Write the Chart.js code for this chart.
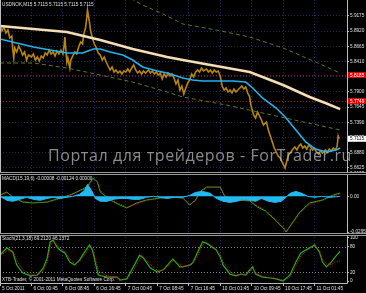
<!DOCTYPE html>
<html>
<head>
<meta charset="utf-8">
<script src="https://cdn.jsdelivr.net/npm/chart.js@4.4.1/dist/chart.umd.min.js"></script>
<style>
  body { margin: 0; background: #000; width: 366px; height: 293px; overflow: hidden; position: relative; }
  #chart { position: absolute; left: 0; top: 0; }
  .txt { position: absolute; left: 2px; color: #e0e0e0; font-family: "Liberation Sans", sans-serif; font-size: 4.7px; white-space: nowrap; line-height: 1; }
  #mark { position: absolute; left: 48px; top: 147px; color: rgba(185,185,185,0.75); font-family: "Open Sans", sans-serif; font-size: 16px; white-space: nowrap; line-height: 1; }
</style>
</head>
<body>
<canvas id="chart" width="366" height="293"></canvas>
<div class="txt" style="top:3px">USDNOK,M15 5.7115 5.7115 5.7115 5.7115</div>
<div class="txt" style="top:177px">MACD(15,19,6) -0.00008 -0.00124 0.00000</div>
<div class="txt" style="top:237px">Stoch(21,3,18) 69.2120 46.1372</div>
<div class="txt" style="top:278px">XTB-Trader, © 2001-2011 MetaQuotes Software Corp.</div>
<div id="mark">Портал для трейдеров - ForTrader.ru</div>
<script>
// USDNOK M15, bars counted from the left edge of the window
const timeTicks = [0, 32, 64, 96, 128, 160, 192, 224, 256, 288, 320];
const timeLabels = ["5 Oct 2011", "6 Oct 00:45", "6 Oct 08:45", "6 Oct 16:45", "7 Oct 00:45",
  "7 Oct 08:45", "7 Oct 16:45", "10 Oct 01:45", "10 Oct 09:45", "10 Oct 17:45", "11 Oct 01:45"];
const priceTicks = [5.9175, 5.8920, 5.8665, 5.8410, 5.8155, 5.7900, 5.7645, 5.7390, 5.7135, 5.6880, 5.6625];
const macdTicks = [0.0185, 0, -0.029525];
const stochTicks = [100, 80, 20, 0];

const lastPrice = 5.7115;
const redLevels = [5.8185, 5.7749];

const priceBar = [0, 2, 4, 6, 8, 10, 12, 13, 14, 15, 17, 19, 21, 23, 25, 27, 29, 32, 34, 36, 38, 40, 42, 44, 46,
  48, 50, 52, 54, 56, 58, 60, 62, 64, 65, 66, 67, 68, 69, 71, 72, 74, 76, 78, 80, 82, 84, 85, 87, 88, 89, 91, 92,
  94, 96, 98, 100, 102, 104, 106, 108, 110, 112, 114, 116, 118, 120, 122, 124, 126, 128, 130, 132, 134, 136, 138,
  140, 142, 144, 146, 148, 151, 153, 155, 157, 159, 161, 163, 165, 167, 169, 171, 173, 175, 177, 179, 181, 183,
  185, 187, 189, 191, 193, 195, 197, 199, 201, 203, 205, 207, 210, 212, 214, 216, 218, 220, 222, 224, 226, 228,
  230, 232, 234, 236, 238, 240, 242, 244, 246, 248, 250, 252, 254, 255, 256, 258, 260, 262, 264, 266, 268, 271,
  273, 275, 277, 279, 281, 283, 285, 287, 289, 290, 292, 294, 296, 298, 300, 302, 304, 306, 308, 310, 312, 314,
  316, 318, 320, 322, 324, 326, 328, 331, 333, 335, 337, 339, 341, 343, 344, 345, 346];
const priceClose = [5.9024, 5.8923, 5.8990, 5.8889, 5.8940, 5.8806, 5.8839, 5.8604, 5.8470, 5.8638, 5.8571,
  5.8671, 5.8604, 5.8520, 5.8571, 5.8436, 5.8520, 5.8487, 5.8537, 5.8436, 5.8487, 5.8420, 5.8503, 5.8470,
  5.8554, 5.8520, 5.8604, 5.8537, 5.8571, 5.8503, 5.8587, 5.8537, 5.8604, 5.8537, 5.8638, 5.8822, 5.8604,
  5.8403, 5.8470, 5.8302, 5.8436, 5.8503, 5.8571, 5.8537, 5.8655, 5.8738, 5.8705, 5.8856, 5.8973, 5.9107,
  5.9275, 5.9074, 5.8940, 5.8806, 5.8705, 5.8638, 5.8554, 5.8520, 5.8436, 5.8487, 5.8403, 5.8336, 5.8269,
  5.8319, 5.8235, 5.8269, 5.8218, 5.8252, 5.8202, 5.8252, 5.8235, 5.8285, 5.8235, 5.8302, 5.8353, 5.8269,
  5.8218, 5.8252, 5.8202, 5.8252, 5.8218, 5.8269, 5.8218, 5.8252, 5.8202, 5.8235, 5.8185, 5.8218, 5.8118,
  5.8202, 5.8151, 5.8218, 5.8168, 5.8202, 5.8134, 5.8034, 5.8101, 5.7933, 5.8000, 5.7866, 5.7967, 5.8051,
  5.8101, 5.8202, 5.8151, 5.8235, 5.8269, 5.8235, 5.8302, 5.8252, 5.8285, 5.8235, 5.8269, 5.8218, 5.8269,
  5.8235, 5.8252, 5.8168, 5.8000, 5.7933, 5.7967, 5.7900, 5.7933, 5.7883, 5.7950, 5.7900, 5.7933, 5.7967,
  5.8000, 5.7950, 5.7984, 5.7883, 5.7816, 5.7698, 5.7631, 5.7514, 5.7463, 5.7564, 5.7497, 5.7430, 5.7346,
  5.7396, 5.7262, 5.7161, 5.7061, 5.6960, 5.6893, 5.6826, 5.6792, 5.6725, 5.6658, 5.6625, 5.6759, 5.6860,
  5.6893, 5.6943, 5.6977, 5.6927, 5.6994, 5.7027, 5.6960, 5.6994, 5.6943, 5.7010, 5.6977, 5.6927, 5.6960,
  5.6893, 5.6860, 5.6910, 5.6876, 5.6927, 5.6893, 5.6943, 5.6910, 5.6960, 5.6927, 5.6994, 5.7161, 5.7115];

const fastBar = [0, 17, 34, 51, 68, 84, 95, 102, 112, 125, 135, 145, 160, 170, 186, 196, 206, 220, 237, 250,
  257, 267, 281, 291, 301, 311, 321, 332, 342, 346];
const fastMa = [5.8789, 5.8722, 5.8655, 5.8604, 5.8554, 5.8554, 5.8621, 5.8621, 5.8571, 5.8520, 5.8436, 5.8319,
  5.8252, 5.8218, 5.8134, 5.8101, 5.8084, 5.8084, 5.8084, 5.8067, 5.7967, 5.7799, 5.7631, 5.7463, 5.7262,
  5.7061, 5.6943, 5.6893, 5.6927, 5.6960];

const slowBar = [0, 34, 68, 102, 135, 170, 186, 220, 254, 275, 288, 315, 331, 346];
const slowMa = [5.9007, 5.8956, 5.8906, 5.8772, 5.8621, 5.8487, 5.8436, 5.8336, 5.8235, 5.8101, 5.8017, 5.7816,
  5.7715, 5.7614];

const upperBar = [127, 145, 166, 186, 220, 254, 288, 321, 346];
const upperBand = [5.9527, 5.9359, 5.9208, 5.9040, 5.8940, 5.8822, 5.8638, 5.8403, 5.8218];
const lowerBar = [0, 34, 68, 102, 135, 170, 186, 230, 346];
const lowerBand = [5.8386, 5.8386, 5.8302, 5.8185, 5.8067, 5.7900, 5.7816, 5.7682, 5.7262];

const macdBar = [0, 7, 13, 23, 34, 48, 61, 71, 78, 88, 95, 99, 102, 112, 122, 129, 139, 149, 163, 173, 186, 193,
  199, 203, 210, 224, 229, 239, 254, 262, 270, 280, 288, 291, 298, 305, 315, 328, 339, 346];
const macdMain = [0.0011, 0.0036, -0.0006, -0.0047, -0.0055, -0.0047, -0.0014, 0.0011, 0.0036, 0.0077, 0.0152,
  0.0119, 0.0036, -0.0030, -0.0072, -0.0096, -0.0055, -0.0030, -0.0014, -0.0006, -0.0014, -0.0072, -0.0030,
  0.0036, 0.0077, 0.0077, -0.0006, -0.0030, -0.0038, -0.0088, -0.0121, -0.0196, -0.0262, -0.0295, -0.0212,
  -0.0130, -0.0055, -0.0030, 0.0011, 0.0028];
const macdSignal = [0.0008, 0.0030, 0.0004, -0.0040, -0.0053, -0.0049, -0.0020, 0.0005, 0.0030, 0.0068, 0.0138,
  0.0125, 0.0050, -0.0022, -0.0064, -0.0090, -0.0062, -0.0034, -0.0017, -0.0008, -0.0012, -0.0064, -0.0038,
  0.0025, 0.0070, 0.0076, 0.0005, -0.0026, -0.0036, -0.0080, -0.0114, -0.0186, -0.0252, -0.0288, -0.0222,
  -0.0140, -0.0064, -0.0034, 0.0004, 0.0022];

const histBar = [0, 7, 13, 20, 27, 34, 41, 48, 54, 61, 68, 74, 81, 86, 89, 93, 97, 102, 109, 115, 122, 129, 135,
  142, 149, 156, 163, 170, 178, 186, 193, 199, 206, 214, 220, 227, 234, 241, 247, 254, 260, 266, 273, 280, 286,
  291, 295, 301, 307, 313, 320, 327, 336, 346];
const histVal = [0, -0.0033, -0.0041, -0.0025, -0.0008, -0.0025, -0.0033, -0.0017, -0.0008, -0.0017, -0.0008, 0,
  0.0017, 0.0050, 0.0099, 0.0050, -0.0017, -0.0041, -0.0041, -0.0025, -0.0017, -0.0017, -0.0025, -0.0025,
  -0.0008, 0, -0.0008, -0.0017, -0.0008, -0.0008, 0.0008, 0.0033, 0.0041, 0.0025, -0.0017, -0.0041, -0.0050,
  -0.0041, -0.0025, -0.0033, -0.0041, -0.0017, -0.0041, -0.0050, -0.0041, -0.0008, 0.0025, 0.0041, 0.0025, 0,
  -0.0008, 0, -0.0008, 0];

const stochBar = [0, 7, 13, 17, 23, 31, 38, 44, 48, 51, 54, 58, 61, 66, 71, 76, 81, 86, 91, 94, 97, 100, 109, 119,
  122, 129, 135, 142, 145, 153, 160, 166, 173, 176, 183, 186, 193, 196, 201, 206, 210, 217, 220, 224, 227, 234,
  240, 245, 250, 254, 257, 260, 267, 275, 281, 288, 295, 301, 306, 311, 315, 320, 325, 328, 332, 337, 341, 346];
const stochK = [60, 77, 67, 37, 19, 12, 14, 30, 53, 91, 95, 79, 72, 65, 44, 37, 49, 67, 84, 72, 42, 14, 9, 9, 2, 5,
  30, 60, 56, 30, 21, 26, 44, 51, 33, 33, 37, 42, 67, 91, 88, 77, 72, 56, 37, 16, 12, 16, 14, 26, 33, 16, 9, 7, 5,
  0, 14, 44, 65, 72, 77, 84, 67, 44, 33, 44, 56, 69];
const stochD = [58, 70, 70, 48, 27, 15, 13, 24, 45, 80, 92, 85, 75, 68, 52, 40, 45, 60, 78, 76, 52, 24, 12, 9, 4, 4,
  22, 50, 57, 38, 25, 25, 38, 48, 38, 34, 36, 40, 58, 84, 89, 80, 74, 62, 44, 22, 14, 15, 15, 22, 30, 20, 11, 8, 6,
  2, 9, 35, 58, 69, 75, 81, 72, 50, 40, 38, 44, 47];

const pts = (xs, ys) => xs.map((x, i) => ({ x: x, y: ys[i] }));

const axisFont = { family: "Liberation Sans", size: 4.7 };
const gridBlue = "#25255e";
const frameGrey = "#bdbdbd";

function line(data, color, width, axis, extra) {
  return Object.assign({ data: data, borderColor: color, borderWidth: width, pointRadius: 0,
    tension: 0, yAxisID: axis, fill: false }, extra || {});
}

const chartFrame = {
  id: "chartFrame",
  beforeDatasetsDraw(chart) {
    const { ctx, chartArea, scales } = chart;
    ctx.save();
    ctx.strokeStyle = "#9a1010";
    ctx.lineWidth = 1;
    ctx.setLineDash([1, 2]);
    redLevels.forEach(v => {
      const y = Math.round(scales.yPrice.getPixelForValue(v)) + 0.5;
      ctx.beginPath(); ctx.moveTo(chartArea.left, y); ctx.lineTo(chartArea.right, y); ctx.stroke();
    });
    ctx.strokeStyle = "#8a8a8a";
    [20, 80].forEach(v => {
      const y = Math.round(scales.yStoch.getPixelForValue(v)) + 0.5;
      ctx.beginPath(); ctx.moveTo(chartArea.left, y); ctx.lineTo(chartArea.right, y); ctx.stroke();
    });
    ctx.restore();
  },
  afterDraw(chart) {
    const { ctx, chartArea, scales } = chart;
    ctx.save();
    ctx.strokeStyle = frameGrey;
    ctx.lineWidth = 1;
    ctx.beginPath();
    ctx.moveTo(chartArea.right + 0.5, 0); ctx.lineTo(chartArea.right + 0.5, chartArea.bottom + 0.5);
    ctx.moveTo(0, chartArea.bottom + 0.5); ctx.lineTo(chartArea.right + 0.5, chartArea.bottom + 0.5);
    ctx.moveTo(0.5, 0); ctx.lineTo(0.5, chartArea.bottom);
    ctx.stroke();
    [scales.yMacd.top, scales.yStoch.top].forEach(t => {
      ctx.fillStyle = "#9a9a9a";
      ctx.fillRect(0, Math.round(t) - 1, 366, 3);
      ctx.fillStyle = "#000";
      ctx.fillRect(0, Math.round(t), 366, 1);
    });
    // price boxes on the axis
    ctx.font = "4.7px 'Liberation Sans'";
    ctx.textBaseline = "middle";
    const box = (v, bg, fg) => {
      const y = scales.yPrice.getPixelForValue(v);
      ctx.fillStyle = bg;
      ctx.fillRect(chartArea.right + 1, y - 3, 18, 6);
      ctx.fillStyle = fg;
      ctx.fillText(v.toFixed(4), chartArea.right + 3, y + 0.3);
    };
    redLevels.forEach(v => box(v, "#e00000", "#ffffff"));
    box(lastPrice, "#ffffff", "#000000");
    ctx.restore();
  }
};

function rightAxis(min, max, ticks, weight, fmt, gridOn) {
  return {
    type: "linear", position: "right", stack: "panes", stackWeight: weight,
    min: min, max: max,
    afterBuildTicks: s => { s.ticks = ticks.map(v => ({ value: v })); },
    afterFit: s => { s.width = 19; s.paddingTop = 0; s.paddingBottom = 0; },
    ticks: { callback: fmt, font: axisFont, color: "#e0e0e0", padding: 1, autoSkip: false },
    grid: { display: true, drawOnChartArea: gridOn, color: gridBlue, tickLength: 2, tickColor: frameGrey },
    border: { display: false, dash: [1, 2] }
  };
}

new Chart(document.getElementById("chart"), {
  type: "line",
  data: {
    datasets: [
      line(pts(upperBar, upperBand), "#5b7a1e", 1, "yPrice", { borderDash: [4, 3] }),
      line(pts(lowerBar, lowerBand), "#5b7a1e", 1, "yPrice", { borderDash: [4, 3] }),
      line(pts(slowBar, slowMa), "#f5deb3", 2.5, "yPrice"),
      line(pts(fastBar, fastMa), "#1fb4ee", 1.6, "yPrice"),
      line(pts(priceBar, priceClose), "#b8860b", 1.6, "yPrice"),
      line(pts(histBar, histVal), "#22b8f0", 1, "yMacd", { fill: "origin", backgroundColor: "#22b8f0" }),
      line(pts(macdBar, macdSignal), "#d02020", 1, "yMacd", { borderDash: [1, 1] }),
      line(pts(macdBar, macdMain), "#20b020", 1, "yMacd"),
      line(pts(stochBar, stochD), "#d02020", 1, "yStoch", { borderDash: [1, 1] }),
      line(pts(stochBar, stochK), "#20b020", 1.2, "yStoch")
    ]
  },
  options: {
    responsive: false,
    animation: false,
    layout: { padding: 0 },
    plugins: { legend: { display: false }, tooltip: { enabled: false } },
    scales: {
      x: {
        type: "linear", min: 0, max: 353, position: "bottom",
        afterBuildTicks: s => { s.ticks = timeTicks.map(v => ({ value: v })); },
        afterFit: s => { s.height = 10; s.paddingLeft = 0; s.paddingRight = 0; },
        ticks: { callback: (v, i) => timeLabels[i], font: axisFont, color: "#e0e0e0", align: "start",
          labelOffset: 2, padding: 0, maxRotation: 0, autoSkip: false },
        grid: { color: gridBlue, tickLength: 3, tickColor: frameGrey },
        border: { display: false, dash: [1, 2] }
      },
      yPrice: rightAxis(5.6541, 5.9443, priceTicks, 173, v => v.toFixed(4), true),
      yMacd: rightAxis(-0.03116, 0.01933, macdTicks, 61,
        v => (v === 0 ? "0.00" : String(v)), false),
      yStoch: rightAxis(-4.65, 109.3, stochTicks, 49, v => String(v), false)
    }
  },
  plugins: [chartFrame]
});

// stretch the watermark to its width in the reference
const mark = document.getElementById("mark");
const txt = mark.textContent;
mark.style.letterSpacing = ((304 - mark.getBoundingClientRect().width) / txt.length) + "px";
</script>
</body>
</html>
